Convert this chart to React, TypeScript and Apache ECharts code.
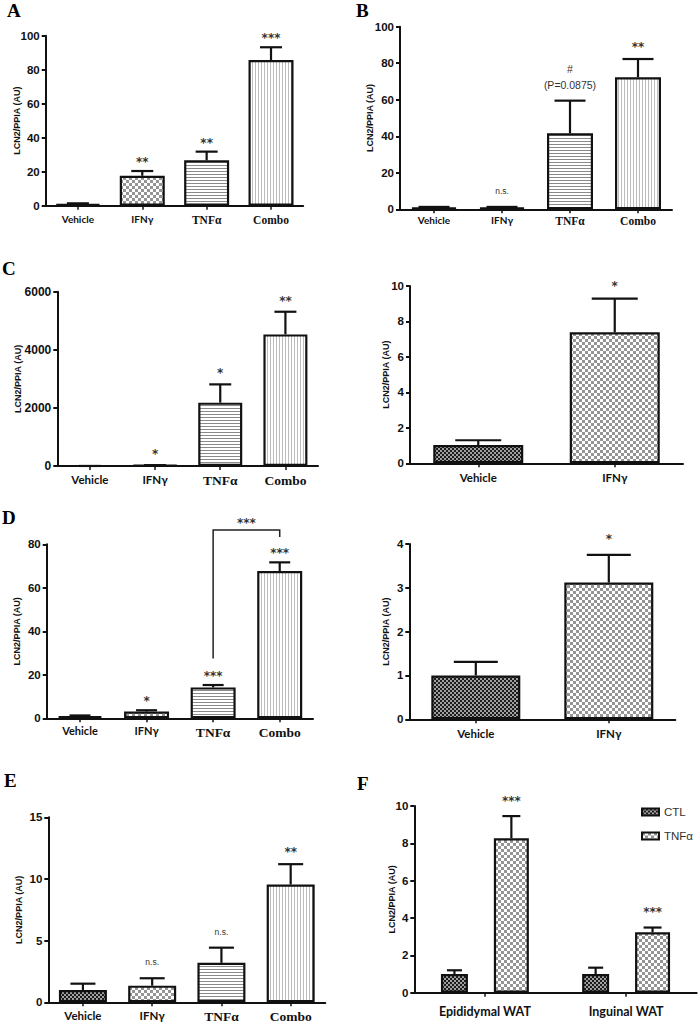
import React, { useEffect, useRef } from "react";
import * as echarts from "echarts";

// ---------------- data ----------------
const treatments = ["Vehicle", "IFNγ", "TNFα", "Combo"];
const pairGroups = ["Vehicle", "IFNγ"];
const depots = ["Epididymal WAT", "Inguinal WAT"];
const fSeriesNames = ["CTL", "TNFα"];
const yTitle = "LCN2/PPIA (AU)";
const panelLetters = ["A", "B", "C", "D", "E", "F"];

const aMean = [1.0, 17.6, 26.7, 85.7];
const aSem = [0.4, 2.8, 5.1, 7.5];
const aSig = ["", "**", "**", "***"];

const bMean = [1.0, 1.0, 41.6, 72.3];
const bSem = [0.3, 0.3, 17.9, 10.0];
const bSig = ["", "n.s.", "#\n(P=0.0875)", "**"];

const cMean = [1, 20, 2180, 4530];
const cSem = [0.5, 10, 630, 780];
const cSig = ["", "*", "*", "**"];

const c2Mean = [1.03, 7.39];
const c2Sem = [0.27, 1.9];
const c2Sig = ["", "*"];

const dMean = [1.0, 3.1, 14.2, 67.7];
const dSem = [0.3, 0.6, 1.1, 4.0];
const dSig = ["", "*", "***", "***"];
const dBracketLevels = [27.5, 86.6, 83.4]; // TNFα foot, top, Combo foot
const dBracketSig = "***";

const d2Mean = [1.0, 3.12];
const d2Sem = [0.31, 0.63];
const d2Sig = ["", "*"];

const eMean = [1.0, 1.35, 3.2, 9.55];
const eSem = [0.51, 0.6, 1.23, 1.65];
const eSig = ["", "n.s.", "n.s.", "**"];

const fCtlMean = [1.0, 1.0];
const fCtlSem = [0.2, 0.34];
const fTnfMean = [8.27, 3.24];
const fTnfSem = [1.19, 0.25];
const fSig = ["***", "***"];

// ---------------- styles ----------------
const INK = "#111";
const NOTE = "#333";
const SANS = "Liberation Sans, Arial, sans-serif";
const LATO = "Lato, Open Sans, sans-serif";
const SERIF = "Liberation Serif, Times New Roman, serif";
const STAR = "DejaVu Sans, sans-serif";

function makePattern(w: number, h: number, draw: (c: CanvasRenderingContext2D) => void) {
  const cv = document.createElement("canvas");
  cv.width = w;
  cv.height = h;
  const ctx = cv.getContext("2d")!;
  draw(ctx);
  return { image: cv, repeat: "repeat", imageWidth: w, imageHeight: h } as any;
}

function buildPatterns() {
  const dark = makePattern(4, 4, (c) => {
    c.fillStyle = "#a0a0a0";
    c.fillRect(0, 0, 4, 4);
    c.fillStyle = "#1c1c1c";
    c.fillRect(0, 0, 2, 2);
    c.fillRect(2, 2, 2, 2);
  });
  const light = makePattern(6, 6, (c) => {
    c.fillStyle = "#ffffff";
    c.fillRect(0, 0, 6, 6);
    c.fillStyle = "#959595";
    c.fillRect(0, 0, 3, 3);
    c.fillRect(3, 3, 3, 3);
  });
  const hline = makePattern(4, 3, (c) => {
    c.fillStyle = "#ffffff";
    c.fillRect(0, 0, 4, 3);
    c.fillStyle = "#8a8a8a";
    c.fillRect(0, 0, 4, 1);
  });
  const vline = makePattern(3, 4, (c) => {
    c.fillStyle = "#ffffff";
    c.fillRect(0, 0, 3, 4);
    c.fillStyle = "#bcbcbc";
    c.fillRect(0, 0, 1, 4);
  });
  return { dark, light, hline, vline };
}

type SeriesCfg = { name?: string; mean: number[]; sem: number[]; pattern?: any; barWidth: number; cap: number };
type PanelCfg = {
  cats: string[];
  series: SeriesCfg[];
  sig: string[];
  sigSeries: number;
  grid: { left: number; top: number; width: number; height: number };
  max: number;
  interval: number;
  nameGap: number;
  sigGap: number;
  tickSize: number;
  sansSize: number;
  serifSize: number;
  labelMargin: number;
  barGap?: number;
};

function barOffsets(widths: number[], gap: number) {
  let sum = 0;
  widths.forEach((w) => (sum += w * (1 + gap)));
  sum -= widths[widths.length - 1] * gap;
  let off = -sum / 2;
  const centers: number[] = [];
  widths.forEach((w) => {
    centers.push(off + w / 2);
    off += w * (1 + gap);
  });
  return centers;
}

function buildPanel(i: number, cfg: PanelCfg, P: any) {
  const patternFor = (c: string) =>
    ({ Vehicle: P.dark, "IFNγ": P.light, "TNFα": P.hline, Combo: P.vline } as any)[c];
  const grid = { ...cfg.grid, containLabel: false, outerBoundsMode: "none" };
  const xAxis = {
    type: "category",
    gridIndex: i,
    data: cfg.cats,
    axisLine: { show: true, lineStyle: { color: INK, width: 2 } },
    axisTick: { show: true, alignWithLabel: true, length: 4, lineStyle: { color: INK, width: 1.5 } },
    axisLabel: {
      interval: 0,
      margin: cfg.labelMargin,
      formatter: (v: string) => (v === "TNFα" || v === "Combo" ? `{serif|${v}}` : `{sans|${v}}`),
      rich: {
        sans: { fontFamily: LATO, fontWeight: "bold", fontSize: cfg.sansSize, color: INK },
        serif: { fontFamily: SERIF, fontWeight: "bold", fontSize: cfg.serifSize, color: INK },
      },
    },
    splitLine: { show: false },
  };
  const yAxis = {
    type: "value",
    gridIndex: i,
    min: 0,
    max: cfg.max,
    interval: cfg.interval,
    name: yTitle,
    nameLocation: "middle",
    nameGap: cfg.nameGap,
    nameMoveOverlap: false,
    nameTextStyle: { fontFamily: SANS, fontWeight: "bold", fontSize: 9, color: INK },
    axisLine: { show: true, lineStyle: { color: INK, width: 2 } },
    axisTick: { show: true, length: 4, lineStyle: { color: INK, width: 2 } },
    axisLabel: {
      fontFamily: SANS,
      fontWeight: "bold",
      fontSize: cfg.tickSize,
      color: INK,
      margin: 6,
      formatter: (v: number) => String(v),
    },
    splitLine: { show: false },
  };
  const gap = cfg.barGap ?? 0.3;
  const offsets = cfg.series.length > 1 ? barOffsets(cfg.series.map((s) => s.barWidth), gap) : [0];
  const series: any[] = [];
  cfg.series.forEach((s, k) => {
    series.push({
      type: "bar",
      name: s.name,
      xAxisIndex: i,
      yAxisIndex: i,
      barWidth: s.barWidth,
      barGap: `${Math.round(gap * 100)}%`,
      silent: true,
      z: 2,
      itemStyle: { color: s.pattern ?? P.light, borderColor: INK, borderWidth: 2.2 },
      data: s.mean.map((v, j) => ({
        value: v,
        itemStyle: { color: s.pattern ?? patternFor(cfg.cats[j]), borderColor: INK, borderWidth: 2.2 },
      })),
    });
    const off = offsets[k];
    series.push({
      type: "custom",
      xAxisIndex: i,
      yAxisIndex: i,
      silent: true,
      z: 4,
      itemStyle: { color: INK },
      encode: { x: 0, y: [1, 2] },
      data: s.mean.map((v, j) => [j, v, v + s.sem[j]]),
      renderItem: (params: any, api: any) => {
        const x = api.value(0);
        const lo = api.coord([x, api.value(1)]);
        const hi = api.coord([x, api.value(2)]);
        const cx = lo[0] + off;
        return {
          type: "group",
          children: [
            { type: "line", shape: { x1: cx, y1: lo[1], x2: cx, y2: hi[1] }, style: { stroke: INK, lineWidth: 2.2 } },
            {
              type: "line",
              shape: { x1: cx - s.cap / 2, y1: hi[1], x2: cx + s.cap / 2, y2: hi[1] },
              style: { stroke: INK, lineWidth: 2.2 },
            },
          ],
        };
      },
    });
  });
  const ss = cfg.series[cfg.sigSeries];
  const sOff = offsets[cfg.sigSeries];
  series.push({
    type: "custom",
    xAxisIndex: i,
    yAxisIndex: i,
    silent: true,
    z: 5,
    itemStyle: { color: NOTE },
    encode: { x: 0, y: 1 },
    data: ss.mean.map((v, j) => [j, v + ss.sem[j]]),
    renderItem: (params: any, api: any) => {
      const label = cfg.sig[params.dataIndex];
      if (!label) return { type: "group", children: [] };
      const p = api.coord([api.value(0), api.value(1)]);
      const isStar = label.startsWith("*");
      const multi = label.includes("\n");
      const fs = isStar ? 12 : multi ? 10.5 : 8.5;
      return {
        type: "text",
        x: p[0] + sOff,
        y: multi ? p[1] - cfg.sigGap + 8 : p[1] - cfg.sigGap + (isStar ? 4 : 0),
        style: {
          text: label,
          align: "center",
          verticalAlign: multi ? "bottom" : "middle",
          fontFamily: isStar ? STAR : SANS,
          fontWeight: isStar ? "bold" : "normal",
          fontSize: fs,
          lineHeight: 16,
          fill: NOTE,
        },
      };
    },
  });
  return { grid, xAxis, yAxis, series };
}

export default function App() {
  const ref = useRef<HTMLDivElement>(null);
  useEffect(() => {
    if (!ref.current) return;
    const chart = echarts.init(ref.current, undefined, { renderer: "svg" });
    const P = buildPatterns();

    const panels: PanelCfg[] = [
      {
        cats: treatments,
        series: [{ mean: aMean, sem: aSem, barWidth: 45, cap: 22 }],
        sig: aSig, sigSeries: 0,
        grid: { left: 45.7, top: 35.7, width: 257.5, height: 170 },
        max: 100, interval: 20, nameGap: 24, sigGap: 13, tickSize: 11.5, sansSize: 10, serifSize: 11.5, labelMargin: 8,
      },
      {
        cats: treatments,
        series: [{ mean: bMean, sem: bSem, barWidth: 46, cap: 31 }],
        sig: bSig, sigSeries: 0,
        grid: { left: 400, top: 26.7, width: 272, height: 182.6 },
        max: 100, interval: 20, nameGap: 26, sigGap: 16, tickSize: 11.5, sansSize: 10, serifSize: 11.5, labelMargin: 6,
      },
      {
        cats: treatments,
        series: [{ mean: cMean, sem: cSem, barWidth: 44, cap: 22 }],
        sig: cSig, sigSeries: 0,
        grid: { left: 57.3, top: 291.7, width: 260.7, height: 174.3 },
        max: 6000, interval: 2000, nameGap: 35, sigGap: 15, tickSize: 12, sansSize: 11.5, serifSize: 13.5, labelMargin: 7,
      },
      {
        cats: pairGroups,
        series: [{ mean: c2Mean, sem: c2Sem, barWidth: 90, cap: 46 }],
        sig: c2Sig, sigSeries: 0,
        grid: { left: 410, top: 286, width: 273, height: 177.3 },
        max: 10, interval: 2, nameGap: 20, sigGap: 16.6, tickSize: 11.5, sansSize: 11.5, serifSize: 13.5, labelMargin: 8,
      },
      {
        cats: treatments,
        series: [{ mean: dMean, sem: dSem, barWidth: 45, cap: 21 }],
        sig: dSig, sigSeries: 0,
        grid: { left: 46.7, top: 544.3, width: 266.3, height: 174 },
        max: 80, interval: 20, nameGap: 25, sigGap: 13, tickSize: 11.5, sansSize: 11, serifSize: 13.5, labelMargin: 7,
      },
      {
        cats: pairGroups,
        series: [{ mean: d2Mean, sem: d2Sem, barWidth: 89, cap: 44 }],
        sig: d2Sig, sigSeries: 0,
        grid: { left: 409.3, top: 544, width: 266, height: 175.3 },
        max: 4, interval: 1, nameGap: 19, sigGap: 20, tickSize: 11.5, sansSize: 11.5, serifSize: 13.5, labelMargin: 8,
      },
      {
        cats: treatments,
        series: [{ mean: eMean, sem: eSem, barWidth: 48, cap: 25 }],
        sig: eSig, sigSeries: 0,
        grid: { left: 48.3, top: 817.3, width: 277, height: 185 },
        max: 15, interval: 5, nameGap: 25, sigGap: 16, tickSize: 11.5, sansSize: 11.5, serifSize: 13.5, labelMargin: 7,
      },
      {
        cats: depots,
        series: [
          { name: fSeriesNames[0], mean: fCtlMean, sem: fCtlSem, pattern: P.dark, barWidth: 27, cap: 15 },
          { name: fSeriesNames[1], mean: fTnfMean, sem: fTnfSem, pattern: P.light, barWidth: 35, cap: 18 },
        ],
        sig: fSig, sigSeries: 1, barGap: 0.96,
        grid: { left: 414.3, top: 806, width: 282.4, height: 186.7 },
        max: 10, interval: 2, nameGap: 18, sigGap: 19.4, tickSize: 11.5, sansSize: 12.5, serifSize: 12.5, labelMargin: 12,
      },
    ];

    const grids: any[] = [];
    const xAxes: any[] = [];
    const yAxes: any[] = [];
    const series: any[] = [];
    panels.forEach((cfg, i) => {
      const p = buildPanel(i, cfg, P);
      grids.push(p.grid);
      xAxes.push(p.xAxis);
      yAxes.push(p.yAxis);
      series.push(...p.series);
    });

    // bracket for panel D (grid index 4)
    series.push({
      type: "custom",
      xAxisIndex: 4,
      yAxisIndex: 4,
      silent: true,
      z: 5,
      itemStyle: { color: NOTE },
      encode: { x: 0, y: 1 },
      data: [[2, dBracketLevels[1]]],
      renderItem: (params: any, api: any) => {
        const a = api.coord([2, dBracketLevels[0]]);
        const b = api.coord([2, dBracketLevels[1]]);
        const c = api.coord([3, dBracketLevels[1]]);
        const d = api.coord([3, dBracketLevels[2]]);
        return {
          type: "group",
          children: [
            {
              type: "polyline",
              shape: { points: [a, b, [d[0], b[1]], d] },
              style: { stroke: "#222", lineWidth: 1.5, fill: null },
            },
            {
              type: "text",
              x: (b[0] + c[0]) / 2,
              y: b[1] - 7,
              style: {
                text: dBracketSig,
                align: "center",
                verticalAlign: "middle",
                fontFamily: STAR,
                fontWeight: "bold",
                fontSize: 12,
                fill: NOTE,
              },
            },
          ],
        };
      },
    });

    const letterPos = [
      [7, 10.3],
      [356, 10],
      [2, 268.3],
      [2, 517.5],
      [4, 780],
      [357, 783],
    ];
    const graphic = panelLetters.map((t, k) => ({
      type: "text",
      x: letterPos[k][0],
      y: letterPos[k][1],
      style: {
        text: t,
        fontFamily: SERIF,
        fontWeight: "bold",
        fontSize: 19,
        fill: "#000",
        align: "left",
        verticalAlign: "middle",
      },
    }));

    chart.setOption({
      animation: false,
      backgroundColor: "#fff",
      grid: grids,
      xAxis: xAxes,
      yAxis: yAxes,
      series,
      graphic,
      legend: {
        data: fSeriesNames,
        orient: "vertical",
        left: 636,
        top: 801,
        itemWidth: 17,
        itemHeight: 7,
        itemGap: 12,
        icon: "rect",
        selectedMode: false,
        itemStyle: { borderColor: INK, borderWidth: 2 },
        textStyle: { fontFamily: SANS, fontSize: 11.5, color: NOTE, padding: [0, 0, 0, 0] },
      },
    });
    return () => chart.dispose();
  }, []);
  return (
    <div
      ref={ref}
      style={{ position: "fixed", left: 0, top: 0, width: 700, height: 1025, background: "#fff" }}
    />
  );
}
